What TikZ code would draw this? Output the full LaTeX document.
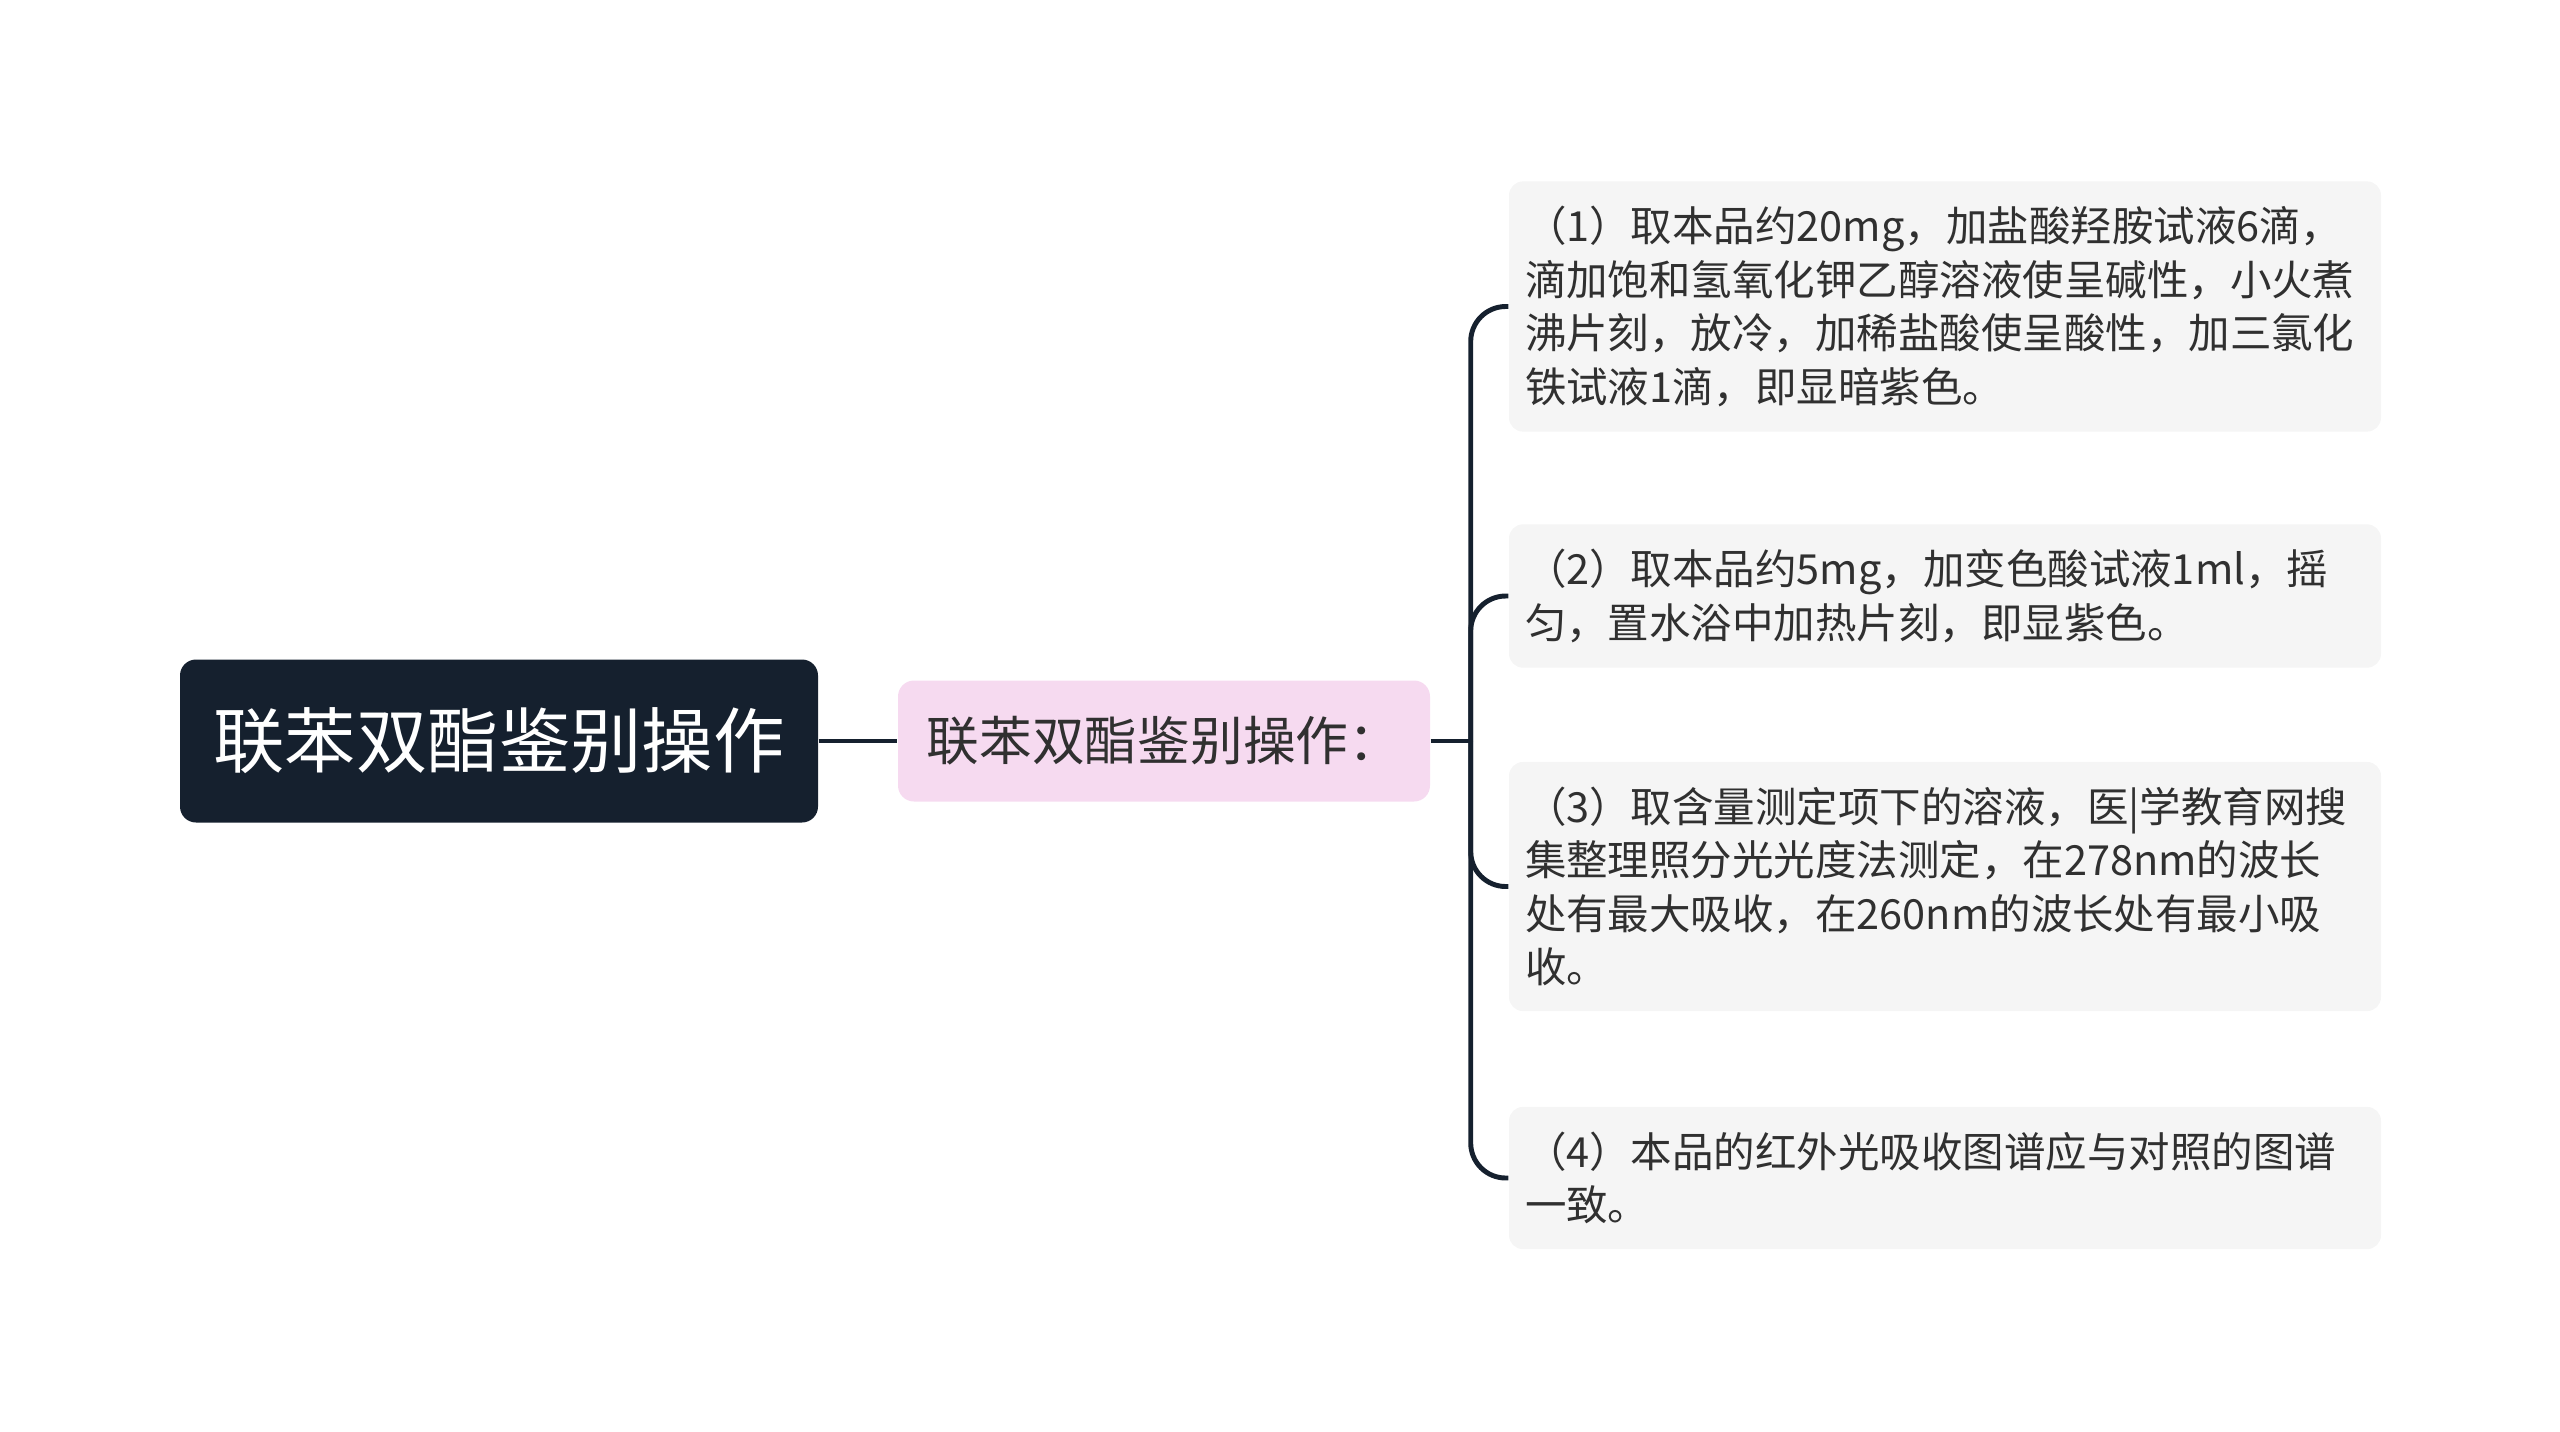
\documentclass[tikz,border=0pt]{standalone}
\usepackage{fontspec}
\setmainfont{Noto Sans CJK SC}
\definecolor{root_navy}{RGB}{21,32,46}
\definecolor{sub_pink}{RGB}{246,218,240}
\definecolor{leaf_grey}{RGB}{245,245,245}
\definecolor{text_grey}{RGB}{48,48,48}
\tikzset{
  rootbox/.style={fill=root_navy, rounded corners=0.16cm, text=white, font=\fontsize{20.3}{24}\selectfont, minimum width=6.38cm, minimum height=1.63cm},
  subbox/.style={fill=sub_pink, rounded corners=0.16cm, text=text_grey, font=\fontsize{15}{18}\selectfont, minimum width=5.32cm, minimum height=1.21cm},
  leafbox/.style={fill=leaf_grey, rounded corners=0.14cm, text=text_grey, font=\fontsize{11.8}{15.2}\selectfont, text width=8.4cm, inner xsep=0.16cm, inner ysep=0.25cm, align=left},
  branch/.style={draw=root_navy, line width=1.4pt},
}

\begin{document}
\begin{tikzpicture}
\useasboundingbox (0,0) rectangle (25.6,-14.31);
\node[rootbox] (root) at (4.99,-7.41) {联苯双酯鉴别操作};
\node[subbox] (sub) at (11.64,-7.41) {联苯双酯鉴别操作：};
\node[leafbox] (step1) at (19.45,-3.065) {（1）取本品约20mg，加盐酸羟胺试液6滴，\\滴加饱和氢氧化钾乙醇溶液使呈碱性，小火煮\\沸片刻，放冷，加稀盐酸使呈酸性，加三氯化\\铁试液1滴，即显暗紫色。};
\node[leafbox] (step2) at (19.45,-5.96) {（2）取本品约5mg，加变色酸试液1ml，摇\\匀，置水浴中加热片刻，即显紫色。};
\node[leafbox] (step3) at (19.45,-8.865) {（3）取含量测定项下的溶液，医|学教育网搜\\集整理照分光光度法测定，在278nm的波长\\处有最大吸收，在260nm的波长处有最小吸\\收。};
\node[leafbox] (step4) at (19.45,-11.78) {（4）本品的红外光吸收图谱应与对照的图谱\\一致。};
% connectors
\draw[branch] (root.east) -- (sub.west);
\draw[branch] (sub.east) -- ++(0.4,0) coordinate (fork);
\foreach \s in {step1,step2,step3,step4}
  \draw[branch, rounded corners=0.35cm] (fork) |- (\s.west);
\end{tikzpicture}
\end{document}
